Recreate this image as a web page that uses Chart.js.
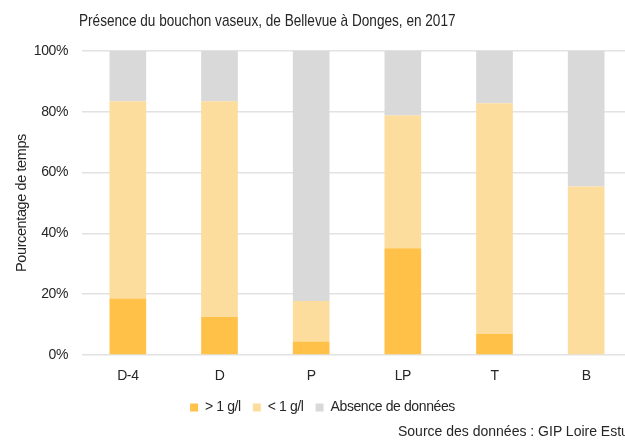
<!DOCTYPE html>
<html>
<head>
<meta charset="utf-8">
<script src="https://cdn.jsdelivr.net/npm/chart.js@4.4.1/dist/chart.umd.min.js"></script>
<style>
  html, body { margin: 0; padding: 0; background: #fff; overflow: hidden; }
  #wrap { position: relative; width: 645px; height: 441px; }
  #title { position: absolute; left: 79px; top: 11px; font: 17px 'Liberation Sans', Arial, sans-serif; color: #262626; white-space: nowrap; transform: scaleX(0.8); transform-origin: 0 0; }
  #source { position: absolute; left: 398px; top: 423px; font: 14px 'Liberation Sans', Arial, sans-serif; color: #262626; white-space: nowrap; }
</style>
</head>
<body>
<div id="wrap">
  <canvas id="bouchon" width="645" height="441"></canvas>
  <div id="title">Présence du bouchon vaseux, de Bellevue à Donges, en 2017</div>
  <div id="source">Source des données : GIP Loire Estuaire</div>
</div>
<script>
const stations = ['D-4', 'D', 'P', 'LP', 'T', 'B'];
const overOneGl = [18.6, 12.5, 4.4, 35.1, 6.9, 0];
const underOneGl = [64.9, 71.0, 13.4, 43.7, 75.9, 55.4];
const noData = [16.5, 16.5, 82.2, 21.2, 17.2, 44.6];
const yTicks = [0, 20, 40, 60, 80, 100];

const textColor = '#262626';
const sans = "'Liberation Sans', Arial, sans-serif";

// the original text is a bit condensed, tighten the canvas letters a little
const tightText = {
  id: 'tightText',
  beforeUpdate: (c) => { c.ctx.letterSpacing = '-0.4px'; },
  beforeDraw: (c) => { c.ctx.letterSpacing = '-0.4px'; },
};

const ctx = document.getElementById('bouchon').getContext('2d');

// eslint-disable-next-line no-undef,no-unused-vars
const chart = new Chart(ctx, {
  type: 'bar',
  plugins: [tightText],
  data: {
    labels: stations,
    datasets: [{
      label: '> 1 g/l',
      data: overOneGl,
      backgroundColor: '#FFC147',
    }, {
      label: '< 1 g/l',
      data: underOneGl,
      backgroundColor: '#FDDD9D',
    }, {
      label: 'Absence de données',
      data: noData,
      backgroundColor: '#D9D9D9',
    }],
  },
  options: {
    responsive: false,
    animation: false,
    events: [],
    layout: { padding: { top: 51, right: 13, bottom: 16.5, left: 13 } },
    datasets: { bar: { barPercentage: 0.4, categoryPercentage: 1 } },
    plugins: {
      title: { display: false },
      tooltip: { enabled: false },
      legend: {
        position: 'bottom',
        labels: {
          boxWidth: 8,
          boxHeight: 8,
          padding: 12,
          color: textColor,
          font: { family: sans, size: 14 },
        },
      },
    },
    scales: {
      x: {
        stacked: true,
        grid: { display: false, drawTicks: false },
        border: { display: false },
        ticks: { color: textColor, padding: 13, font: { family: sans, size: 14 } },
        afterFit: (scale) => { scale.height = 33.5; },
      },
      y: {
        stacked: true,
        min: 0,
        max: 100,
        afterBuildTicks: (scale) => { scale.ticks = yTicks.map((v) => ({ value: v })); },
        grid: { color: '#E2E2E2', lineWidth: 1.5, drawTicks: false },
        border: { display: false },
        ticks: {
          color: textColor,
          padding: 14,
          font: { family: sans, size: 14 },
          callback: (v) => `${v}%`,
        },
        title: {
          display: true,
          text: 'Pourcentage de temps',
          color: textColor,
          font: { family: sans, size: 14.5 },
          padding: 0,
        },
        afterFit: (scale) => { scale.width = 69; },
      },
    },
  },
});
</script>
</body>
</html>
